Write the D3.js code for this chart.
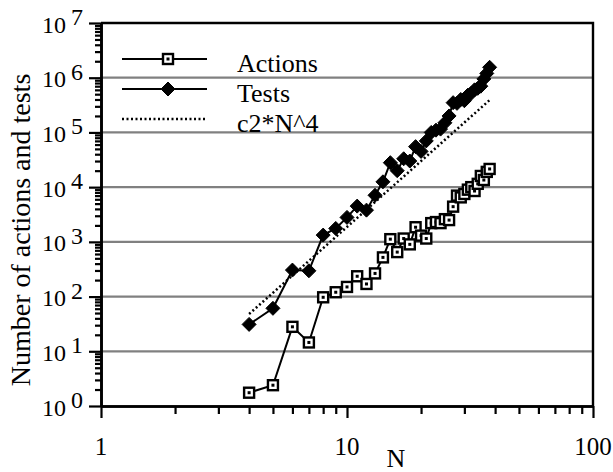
<!DOCTYPE html>
<html>
<head>
<meta charset="utf-8">
<script src="https://cdn.jsdelivr.net/npm/d3@7"></script>
<style>
  body { margin: 0; background: #fff; }
  text { font-family: "Liberation Serif", "Times New Roman", Times, serif; fill: #000; }
</style>
</head>
<body>
<div id="chart"></div>
<script>
// problem size N (x) and the counts
var nValues = [4,5,6,7,8,9,10,11,12,13,14,15,16,17,18,19,20,21,22,23,24,25,26,27,28,29,30,31,32,33,34,35,36,37,38];
var actions = [1.75,2.4,28,14.5,97,120,150,235,170,265,520,1120,650,1150,900,1850,1300,1150,2200,2300,2200,2600,2500,4400,7000,6500,7500,9000,10000,8500,11500,16000,13500,19000,21500];
var tests = [31,61,305,296,1330,1760,2800,4500,3800,7100,12500,28000,20000,33000,30000,55000,45000,70000,100000,110000,115000,150000,200000,350000,340000,400000,380000,480000,520000,600000,640000,700000,950000,1200000,1550000];
// c2*N^4 reference line, end points
var fitN = [4, 38];
var fitValues = [48, 390000];

var seriesNames = ["Actions", "Tests", "c2*N^4"];
var xTickLabels = ["1", "10", "100"];
var yExponents = ["0","1","2","3","4","5","6","7"];

var width = 613,
    height = 472,
    plot = {left: 101, right: 593, top: 23, bottom: 406};

var svg = d3.select('#chart')
  .append('svg')
  .attr('width', width)
  .attr('height', height);

var x = d3.scaleLog().domain([1, 100]).range([plot.left, plot.right]);
var y = d3.scaleLog().domain([1, 1e7]).range([plot.bottom, plot.top]);

var xMajor = [1, 10, 100];
var yMajor = yExponents.map(function (e) { return Math.pow(10, +e); });
function isMajor(v) { return Math.abs(Math.log10(v) - Math.round(Math.log10(v))) < 1e-9; }

// grid lines at the decades
svg.append('g').selectAll('line')
  .data(yMajor.slice(1, -1))
  .enter().append('line')
  .attr('x1', plot.left).attr('x2', plot.right)
  .attr('y1', function (d) { return y(d); })
  .attr('y2', function (d) { return y(d); })
  .attr('stroke', '#808080')
  .attr('stroke-width', 2.2);

// frame top and right
svg.append('path')
  .attr('d', 'M' + plot.left + ',' + y(1e7) + 'H' + plot.right + 'V' + plot.bottom)
  .attr('fill', 'none')
  .attr('stroke', '#000')
  .attr('stroke-width', 2.4);

// axes: minor ticks, then major ticks
function styleAxis(g) {
  g.selectAll('path').attr('stroke', '#000').attr('stroke-width', 2.6);
  g.selectAll('line').attr('stroke', '#000').attr('stroke-width', 2.2);
  g.selectAll('text').remove();
}

svg.append('g')
  .attr('transform', 'translate(' + plot.left + ',0)')
  .call(d3.axisLeft(y).tickValues(y.ticks().filter(function (d) { return !isMajor(d); }))
    .tickSize(6).tickSizeOuter(0))
  .call(styleAxis);
svg.append('g')
  .attr('transform', 'translate(' + plot.left + ',0)')
  .call(d3.axisLeft(y).tickValues(yMajor).tickSize(12).tickSizeOuter(0))
  .call(styleAxis);

svg.append('g')
  .attr('transform', 'translate(0,' + plot.bottom + ')')
  .call(d3.axisBottom(x).tickValues(x.ticks().filter(function (d) { return !isMajor(d); }))
    .tickSize(8).tickSizeOuter(0))
  .call(styleAxis);
svg.append('g')
  .attr('transform', 'translate(0,' + plot.bottom + ')')
  .call(d3.axisBottom(x).tickValues(xMajor).tickSize(12).tickSizeOuter(0))
  .call(styleAxis);

// tick labels
svg.append('g').selectAll('text')
  .data(xMajor)
  .enter().append('text')
  .attr('x', function (d) { return x(d); })
  .attr('y', 455)
  .attr('text-anchor', 'middle')
  .attr('font-size', 25)
  .text(function (d, i) { return xTickLabels[i]; });

var yLab = svg.append('g').selectAll('text')
  .data(yMajor)
  .enter().append('text')
  .attr('font-size', 24);
yLab.append('tspan')
  .attr('x', 42)
  .attr('y', function (d) { return y(d) + 9.5; })
  .text('10');
yLab.append('tspan')
  .attr('x', 71)
  .attr('y', function (d) { return y(d) + 2; })
  .text(function (d, i) { return yExponents[i]; });

// axis titles
svg.append('text')
  .attr('transform', 'translate(30,230) rotate(-90)')
  .attr('text-anchor', 'middle')
  .attr('font-size', 28)
  .text('Number of actions and tests');
svg.append('text')
  .attr('x', 396)
  .attr('y', 467)
  .attr('text-anchor', 'middle')
  .attr('font-size', 26)
  .text('N');

// lines
var line = d3.line()
  .x(function (d) { return x(d[0]); })
  .y(function (d) { return y(d[1]); });

svg.append('path')
  .datum(d3.zip(nValues, actions))
  .attr('d', line)
  .attr('fill', 'none').attr('stroke', '#000').attr('stroke-width', 2);

svg.append('path')
  .datum(d3.zip(nValues, tests))
  .attr('d', line)
  .attr('fill', 'none').attr('stroke', '#000').attr('stroke-width', 2);

svg.append('path')
  .datum(d3.zip(fitN, fitValues))
  .attr('d', line)
  .attr('fill', 'none').attr('stroke', '#000').attr('stroke-width', 2.5)
  .attr('stroke-dasharray', '2,2.5');

// markers
function square(g) {
  g.append('rect')
    .attr('x', -5).attr('y', -5).attr('width', 10).attr('height', 10)
    .attr('fill', '#fff').attr('stroke', '#000').attr('stroke-width', 2.4);
  g.append('rect')
    .attr('x', -1.5).attr('y', -1.5).attr('width', 3).attr('height', 3)
    .attr('fill', '#000');
}
function diamond(g) {
  g.append('path')
    .attr('d', 'M0,-7L7,0L0,7L-7,0Z')
    .attr('fill', '#000').attr('stroke', '#000').attr('stroke-width', 1).attr('stroke-linejoin', 'round');
}

svg.append('g').selectAll('g')
  .data(d3.zip(nValues, tests))
  .enter().append('g')
  .attr('transform', function (d) { return 'translate(' + x(d[0]) + ',' + y(d[1]) + ')'; })
  .call(diamond);

svg.append('g').selectAll('g')
  .data(d3.zip(nValues, actions))
  .enter().append('g')
  .attr('transform', function (d) { return 'translate(' + x(d[0]) + ',' + y(d[1]) + ')'; })
  .call(square);

// legend
var legend = svg.append('g');
var legendY = [59, 89, 119];
legendY.forEach(function (ly, i) {
  legend.append('line')
    .attr('x1', 122).attr('x2', 207).attr('y1', ly).attr('y2', ly)
    .attr('stroke', '#000')
    .attr('stroke-width', i === 2 ? 2.5 : 2)
    .attr('stroke-dasharray', i === 2 ? '2,2.5' : null);
  if (i === 0) legend.append('g').attr('transform', 'translate(168,' + ly + ')').call(square);
  if (i === 1) legend.append('g').attr('transform', 'translate(168,' + ly + ')').call(diamond);
  legend.append('text')
    .attr('x', 237).attr('y', ly + 12.5)
    .attr('font-size', 26)
    .text(seriesNames[i]);
});
</script>
</body>
</html>
